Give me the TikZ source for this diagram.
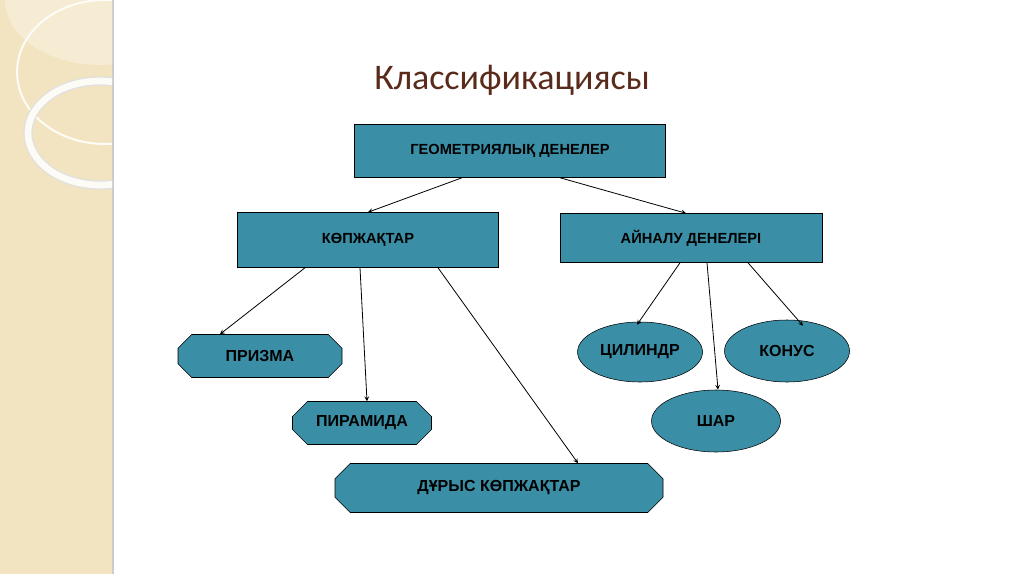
\documentclass[tikz,border=0pt]{standalone}
\usepackage{fontspec}
\setmainfont{Liberation Sans}
\newfontfamily\titlefont{Carlito}
\usetikzlibrary{shapes.misc,shapes.geometric,calc}
\definecolor{teal1}{HTML}{3A8FA6}
\definecolor{beige}{HTML}{F2E4C0}
\definecolor{titlec}{HTML}{5A2A1A}
\tikzset{
 box/.style={draw=black,fill=teal1,rectangle,font=\bfseries\fontsize{11}{13}\selectfont,inner sep=0pt},
 oct/.style={draw=black,fill=teal1,chamfered rectangle,chamfered rectangle xsep=9pt,chamfered rectangle ysep=6pt,font=\bfseries\fontsize{12}{14}\selectfont,inner sep=0pt},
 ell/.style={draw=black,fill=teal1,ellipse,font=\bfseries\fontsize{12}{14}\selectfont,inner sep=0pt},
 arr/.style={-stealth,black,line width=0.6pt}
}
\begin{document}
\begin{tikzpicture}[x=0.75pt,y=-0.75pt]
\useasboundingbox (0,0) rectangle (1024,574);
\fill[white] (0,0) rectangle (1024,574);
\fill[beige] (0,0) rectangle (112,574);
\fill[black!20] (112,0) rectangle (114,574);
\begin{scope}
\clip (0,0) rectangle (112,574);
\fill[white,opacity=0.3] (100,0) ellipse (95 and 65);
\draw[white!90!beige,line width=1.5pt] (105,72) ellipse (88 and 72);
\draw[black!12,line width=7pt] (100,133) ellipse (72 and 52);
\draw[white!85!beige,line width=5pt] (100,133) ellipse (72 and 52);
\end{scope}
\node[font=\titlefont\fontsize{27}{30}\selectfont,text=titlec] (t) at (512,80) {Классификациясы};
\node[box,minimum width=311*0.75pt,minimum height=53*0.75pt] (g) at (510,151) {ГЕОМЕТРИЯЛЫҚ ДЕНЕЛЕР};
\node[box,minimum width=261*0.75pt,minimum height=55*0.75pt] (k) at (368,240) {КӨПЖАҚТАР};
\node[box,minimum width=262*0.75pt,minimum height=49*0.75pt] (a) at (691,238) {АЙНАЛУ ДЕНЕЛЕРІ};
\node[oct,minimum width=164*0.75pt,minimum height=43*0.75pt] (p) at (260,356) {ПРИЗМА};
\node[oct,minimum width=139*0.75pt,minimum height=43*0.75pt] (pi) at (362,423) {ПИРАМИДА};
\node[oct,minimum width=328*0.75pt,minimum height=49*0.75pt] (d) at (499,488) {ДҰРЫС КӨПЖАҚТАР};
\node[ell,minimum width=125*0.75pt,minimum height=60*0.75pt] (c) at (640,352) {ЦИЛИНДР};
\node[ell,minimum width=125*0.75pt,minimum height=62*0.75pt] (ko) at (787,351) {КОНУС};
\node[ell,minimum width=129*0.75pt,minimum height=62*0.75pt] (sh) at (716,421) {ШАР};
\draw[arr] ($(g.south)+(-48,0)$) -- ($(k.north)+(0,0)$);
\draw[arr] ($(g.south)+(50,0)$) -- ($(a.north)+(-5,0)$);
\draw[arr] ($(k.south)+(-63,0)$) -- ($(p.north)+(-40,0)$);
\draw[arr] ($(k.south)+(-8,0)$) -- ($(pi.north)+(5,0)$);
\draw[arr] ($(k.south)+(70,0)$) -- ($(d.north)+(79,0)$);
\draw[arr] ($(a.south)+(-11,0)$) -- ($(c.north)+(-3,3)$);
\draw[arr] ($(a.south)+(16,0)$) -- ($(sh.north)+(2,0)$);
\draw[arr] ($(a.south)+(57,0)$) -- ($(ko.north)+(16,6)$);
\end{tikzpicture}
\end{document}
